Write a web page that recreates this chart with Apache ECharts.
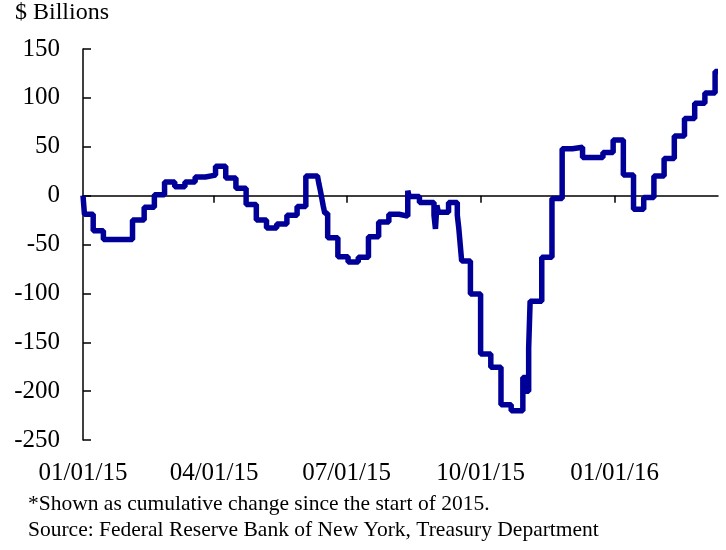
<!DOCTYPE html>
<html><head><meta charset="utf-8">
<script src="https://cdn.jsdelivr.net/npm/echarts@6/dist/echarts.min.js"></script>
<style>html,body{margin:0;padding:0;background:#fff}#c{width:726px;height:550px}</style>
</head><body><div id="c"></div>
<script>
// Days since 01/01/2015 at which the level changes, and the new level ($ billions)
const changeDays = [0, 1, 7, 14, 34, 42, 49, 56, 63, 70, 77, 84, 91, 98, 105, 112, 119, 126, 133, 140, 147, 153,
  161, 162, 163, 164, 165, 166, 168, 175, 182, 189, 196, 203, 210, 217, 223, 224, 231,
  241, 242, 243, 244, 251, 257, 258, 259, 260, 266, 273, 280, 287, 294, 302, 304, 306, 307,
  315, 322, 329, 336, 343, 357, 364, 371, 378, 385, 392, 399, 406, 413, 420, 427, 434, 436];
const values = [0, -19, -36, -45, -25, -12, 1, 14, 9, 14, 19, 21, 30, 18, 7.5, -9, -25, -33, -29, -20, -11, 20,
  20, 12, 5, -3, -11, -18, -43, -62.5, -68, -63, -42, -27, -19, -21, 5, -1, -7,
  -20, -34, -10, -17, -7, -20, -33, -50, -67, -100.7, -162, -175.7, -214, -220, -186, -200, -156, -108,
  -63, -3, 48, 49.5, 39, 44, 57, 21, -14, -2, 20, 38, 61, 79, 94.5, 105, 127, 127];
const tickDays = [0, 90, 181, 273, 365];
const tickLabels = ['01/01/15', '04/01/15', '07/01/15', '10/01/15', '01/01/16'];
const yMin = -250, yMax = 150, yStep = 50;
const xMax = 436;

const FONT = '"Liberation Serif", "Times New Roman", serif';
const chart = echarts.init(document.getElementById('c'), null, {renderer: 'canvas'});
chart.setOption({
  animation: false,
  backgroundColor: '#fff',
  grid: {left: 83, right: 8, top: 49, bottom: 110},
  xAxis: [{
    type: 'value', min: 0, max: xMax,
    axisLine: {show: true, onZero: true, lineStyle: {color: '#000', width: 1.5}},
    axisTick: {show: true, customValues: tickDays, length: 7, lineStyle: {color: '#000', width: 1.5}},
    axisLabel: {show: false},
    splitLine: {show: false}
  }, {
    type: 'value', min: 0, max: xMax, position: 'bottom',
    axisLine: {show: false, onZero: false},
    axisTick: {show: false},
    axisLabel: {
      show: true, customValues: tickDays,
      formatter: v => tickLabels[tickDays.indexOf(v)] || '',
      margin: 21, fontSize: 25, fontFamily: FONT, color: '#000'
    },
    splitLine: {show: false}
  }],
  yAxis: {
    type: 'value', min: yMin, max: yMax, interval: yStep,
    axisLine: {show: true, lineStyle: {color: '#000', width: 1.5}},
    axisTick: {show: true, inside: true, length: 8, lineStyle: {color: '#000', width: 1.5}},
    axisLabel: {margin: 23, fontSize: 25, fontFamily: FONT, color: '#000'},
    splitLine: {show: false}
  },
  graphic: [
    {type: 'text', left: 15, top: 1, style: {text: '$ Billions', font: '24px ' + FONT, fill: '#000'}},
    {type: 'text', left: 28, top: 493, style: {text: '*Shown as cumulative change since the start of 2015.', font: '21.5px ' + FONT, fill: '#000'}},
    {type: 'text', left: 28, top: 519, style: {text: 'Source: Federal Reserve Bank of New York, Treasury Department', font: '21.5px ' + FONT, fill: '#000'}}
  ],
  series: [{
    type: 'line', xAxisIndex: 0, step: 'end', symbol: 'none',
    lineStyle: {color: '#000099', width: 5.5, cap: 'butt', join: 'bevel'},
    data: changeDays.map((d, i) => [d, values[i]])
  }]
});
</script></body></html>
